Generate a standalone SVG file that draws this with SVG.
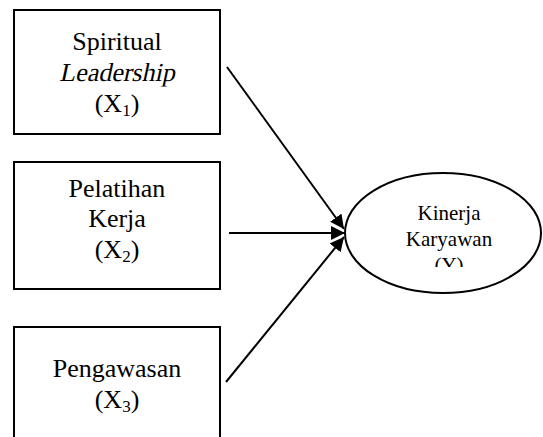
<svg xmlns="http://www.w3.org/2000/svg" width="543" height="437" viewBox="0 0 543 437">
<style>
.box{fill:#fff;stroke:#000;stroke-width:2}
.t{font-family:"Liberation Serif","Times New Roman",serif;font-size:26px;fill:#000;text-anchor:middle}
.ty{font-family:"Liberation Serif","Times New Roman",serif;font-size:21px;fill:#000;text-anchor:middle}
.sub{font-size:17px}
.c{stroke:#000;stroke-width:2;fill:none;marker-end:url(#ah)}
</style>
<defs>
<marker id="ah" viewBox="0 0 10 10" refX="10" refY="5" markerWidth="7" markerHeight="7" markerUnits="strokeWidth" orient="auto">
<path d="M0,0 L10,5 L0,10 z" fill="#000"/>
</marker>
<clipPath id="yc"><rect x="345" y="150" width="200" height="117"/></clipPath>
</defs>
<g id="x1">
<rect class="box" x="14" y="10" width="206" height="124"/>
<text class="t" x="117" y="50">Spiritual</text>
<text class="t" x="134.2" y="81" transform="skewX(-12)">Leadership</text>
<text class="t" x="117" y="112">(X<tspan class="sub" dy="4">1</tspan><tspan dy="-4">)</tspan></text>
</g>
<g id="x2">
<rect class="box" x="14" y="162" width="206" height="127"/>
<text class="t" x="117" y="197">Pelatihan</text>
<text class="t" x="117" y="227">Kerja</text>
<text class="t" x="117" y="258">(X<tspan class="sub" dy="4">2</tspan><tspan dy="-4">)</tspan></text>
</g>
<g id="x3">
<rect class="box" x="14" y="327" width="206" height="120"/>
<text class="t" x="117" y="377">Pengawasan</text>
<text class="t" x="117" y="408">(X<tspan class="sub" dy="4">3</tspan><tspan dy="-4">)</tspan></text>
</g>
<g id="y">
<ellipse cx="443" cy="233" rx="98" ry="60" fill="#fff" stroke="#000" stroke-width="2"/>
<g clip-path="url(#yc)">
<text class="ty" x="449" y="220">Kinerja</text>
<text class="ty" x="449" y="246">Karyawan</text>
<text class="ty" x="449" y="272">(Y)</text>
</g>
</g>
<g id="connectors">
<line class="c" x1="227" y1="67" x2="344" y2="229"/>
<line class="c" x1="229" y1="233" x2="345" y2="233"/>
<line class="c" x1="226" y1="382" x2="344" y2="237"/>
</g>
</svg>
